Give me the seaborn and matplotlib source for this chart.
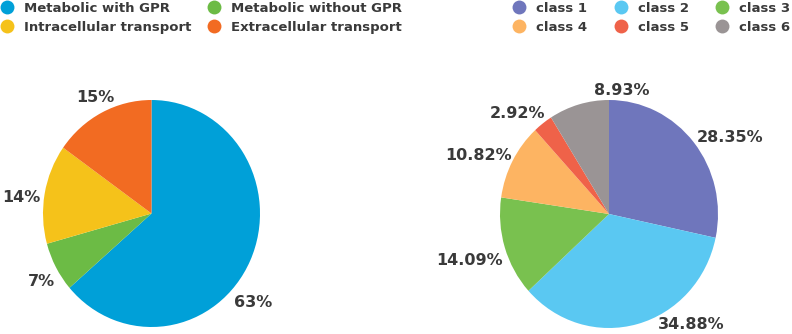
import numpy as np
import matplotlib
matplotlib.use("Agg")
import matplotlib.pyplot as plt
from matplotlib.lines import Line2D
import seaborn as sns

# ── Data ───────────────────────────────────────────────────────────────────
gpr_labels = ["Metabolic with GPR", "Metabolic without GPR",
              "Intracellular transport", "Extracellular transport"]
gpr_values = [63, 7, 14, 15]
gpr_colors = ["#00a0d8", "#6cbb45", "#f5c21a", "#f26b22"]

class_labels = ["class 1", "class 2", "class 3", "class 4", "class 5", "class 6"]
class_values = [28.35, 34.88, 14.09, 10.82, 2.92, 8.93]
class_colors = ["#6f76bc", "#5ac8f2", "#79c14f", "#fdb462", "#ef6249", "#9a9495"]

# label placement (angle in degrees, distance in radii)
gpr_label_pos = [(-40, 1.22), (210.5, 1.18), (173.3, 1.21), (117, 1.15)]
class_label_pos = [(31, 1.3), (-52, 1.23), (197.6, 1.34), (156.9, 1.3),
                   (133.6, 1.22), (84, 1.09)]

TEXT = "#3a3a3a"
FIG_W, FIG_H = 792, 334

sns.set_theme(style="white")
plt.rcParams["font.family"] = ["DejaVu Sans"]


def pie_axes(fig, cx, cy, rx, ry):
    # rect in figure fraction from pixel centre / radii
    return fig.add_axes([(cx - rx) / FIG_W, (FIG_H - cy - ry) / FIG_H,
                         2 * rx / FIG_W, 2 * ry / FIG_H])


def draw_pie(ax, values, colors, fmt, label_pos):
    ax.pie(values, colors=colors, startangle=90, counterclock=False,
           wedgeprops=dict(linewidth=0))
    ax.set_aspect("auto")
    ax.set_xlim(-1, 1)
    ax.set_ylim(-1, 1)
    ax.axis("off")
    for v, (ang, dist) in zip(values, label_pos):
        t = np.deg2rad(ang)
        ax.text(dist * np.cos(t), dist * np.sin(t), fmt.format(v),
                ha="center", va="center", fontsize=11.5, fontweight="bold",
                color=TEXT, clip_on=False)


def legend_handles(labels, colors, order):
    return [Line2D([], [], marker="o", linestyle="", markersize=10,
                   markerfacecolor=colors[i], markeredgewidth=0,
                   label=labels[i]) for i in order]


fig = plt.figure(figsize=(7.92, 3.34), dpi=100)

ax1 = pie_axes(fig, 151.5, 213.5, 108.5, 113.5)
draw_pie(ax1, gpr_values, gpr_colors, "{:.0f}%", gpr_label_pos)

ax2 = pie_axes(fig, 609, 214, 109, 114)
draw_pie(ax2, class_values, class_colors, "{:.2f}%", class_label_pos)

leg_kw = dict(frameon=False, handletextpad=0.75, borderaxespad=0, borderpad=0,
              labelspacing=0.5, handlelength=1.06, labelcolor=TEXT,
              prop=dict(weight="bold", size=9.5))
top = 1 - 1.5 / FIG_H
fig.legend(handles=legend_handles(gpr_labels, gpr_colors, [0, 2, 1, 3]),
           ncol=2, loc="upper left", bbox_to_anchor=(0.0, top),
           columnspacing=1.2, **leg_kw)
fig.legend(handles=legend_handles(class_labels, class_colors, [0, 3, 1, 4, 2, 5]),
           ncol=3, loc="upper right", bbox_to_anchor=(1 - 2 / FIG_W, top),
           columnspacing=2.0, **leg_kw)

fig.savefig("out.png", dpi=100)
plt.close(fig)
